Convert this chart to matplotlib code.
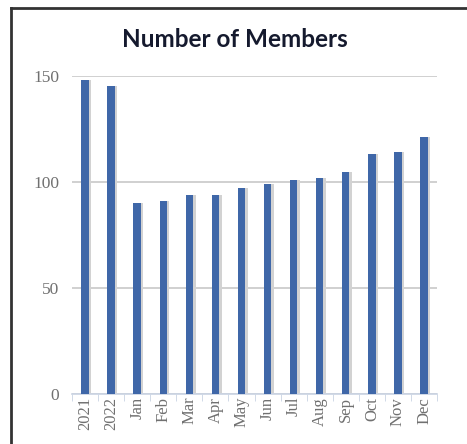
import numpy as np
import matplotlib.pyplot as plt
from matplotlib.lines import Line2D

# category labels and member counts
labels = ['2021', '2022', 'Jan', 'Feb', 'Mar', 'Apr', 'May', 'Jun',
          'Jul', 'Aug', 'Sep', 'Oct', 'Nov', 'Dec']
members = [148, 145, 90, 91, 94, 94, 97, 99, 101, 102, 104.5, 113, 114, 121]
yticks = [0, 50, 100, 150]

bar_color = '#3F67A8'
shadow_color = '#D2D2D2'
text_grey = '#707070'

fig = plt.figure(figsize=(4.67, 4.44), dpi=100)
ax = fig.add_axes([0.154, 0.1126, 0.782, 0.717])

x = np.arange(len(labels))
ax.bar(x + 0.1, members, width=0.28, color=shadow_color, zorder=2)
ax.bar(x, members, width=0.28, color=bar_color, zorder=3)

ax.set_xlim(-0.5, len(labels) - 0.5)
ax.set_ylim(0, 150)
ax.set_yticks(yticks)
ax.set_yticklabels([str(v) for v in yticks], family='Liberation Serif',
                   fontsize=12.5, color=text_grey)
ax.yaxis.grid(True, color='#C8C8C8', linewidth=1.2, zorder=0)
ax.set_axisbelow(True)

ax.set_xticks(x)
ax.set_xticklabels(labels, rotation=90, family='Liberation Serif',
                   fontsize=12, color=text_grey)
ax.set_xticks(np.arange(len(labels) + 1) - 0.5, minor=True)
ax.tick_params(axis='x', which='major', length=0, pad=2)
ax.tick_params(axis='x', which='minor', length=5, color='#C9D3E3')
ax.tick_params(axis='y', length=0, pad=9)

for s in ['left', 'right', 'top']:
    ax.spines[s].set_visible(False)
ax.spines['bottom'].set_color('#C9D3E3')
ax.spines['bottom'].set_linewidth(1.2)

fig.text(0.502, 0.91, 'Number of Members', ha='center', va='center',
         family='Lato', fontweight='bold', fontsize=17.5, color='#151A2E')

# outer frame (top and left edges visible)
fig.add_artist(Line2D([0.024, 1.0], [0.983, 0.983], color='#333333',
                      linewidth=2, transform=fig.transFigure))
fig.add_artist(Line2D([0.024, 0.024], [0.0, 0.983], color='#333333',
                      linewidth=2, transform=fig.transFigure))

fig.savefig('out.png', dpi=100)
